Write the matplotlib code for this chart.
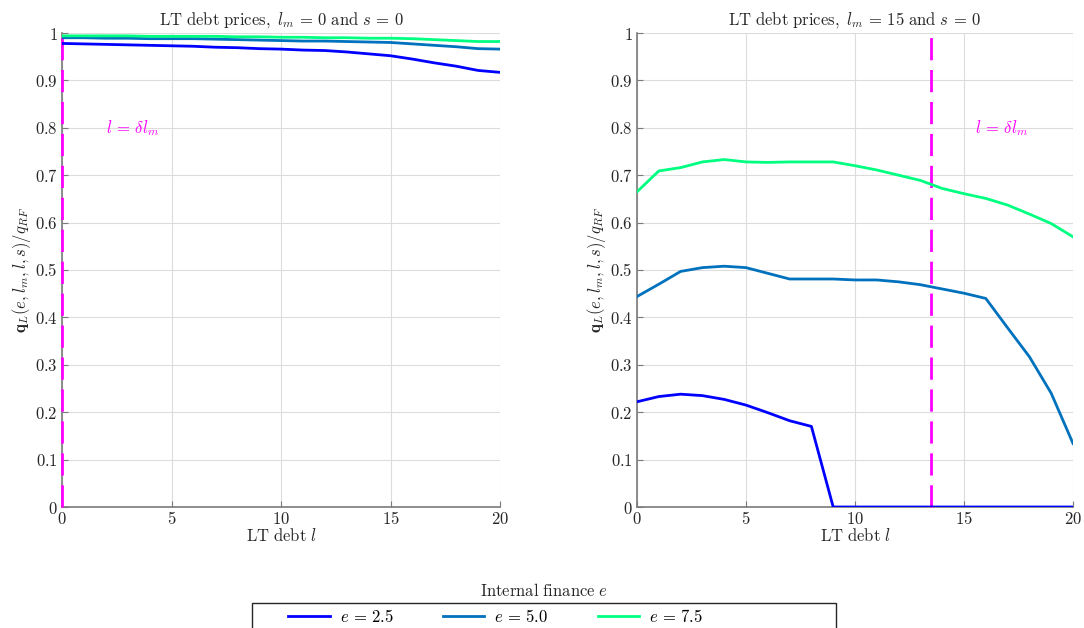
import matplotlib
matplotlib.use("Agg")
import matplotlib.pyplot as plt
from matplotlib.ticker import FuncFormatter
from matplotlib.patches import Rectangle
import numpy as np

plt.rcParams['mathtext.fontset'] = 'cm'
plt.rcParams['font.family'] = ['DejaVu Serif']

debt = list(range(21))

# Left panel: l_m = 0, s = 0
left_e25 = [0.978, 0.977, 0.976, 0.975, 0.974, 0.973, 0.972, 0.970, 0.969, 0.967, 0.966,
            0.964, 0.963, 0.960, 0.956, 0.952, 0.945, 0.937, 0.930, 0.921, 0.917]
left_e50 = [0.990, 0.990, 0.989, 0.989, 0.988, 0.988, 0.988, 0.987, 0.986, 0.985, 0.984,
            0.983, 0.983, 0.982, 0.981, 0.980, 0.977, 0.974, 0.971, 0.967, 0.966]
left_e75 = [0.994, 0.994, 0.994, 0.994, 0.993, 0.993, 0.993, 0.993, 0.992, 0.992, 0.991,
            0.991, 0.990, 0.990, 0.989, 0.989, 0.988, 0.986, 0.984, 0.982, 0.982]

# Right panel: l_m = 15, s = 0
right_e25 = [0.222, 0.233, 0.238, 0.235, 0.227, 0.215, 0.199, 0.182, 0.170, 0.0, 0.0,
             0.0, 0.0, 0.0, 0.0, 0.0, 0.0, 0.0, 0.0, 0.0, 0.0]
right_e50 = [0.444, 0.470, 0.497, 0.505, 0.508, 0.505, 0.493, 0.481, 0.481, 0.481, 0.479,
             0.479, 0.475, 0.469, 0.460, 0.451, 0.440, 0.378, 0.317, 0.240, 0.134]
right_e75 = [0.665, 0.709, 0.716, 0.728, 0.733, 0.728, 0.727, 0.728, 0.728, 0.728, 0.720,
             0.711, 0.700, 0.689, 0.672, 0.661, 0.651, 0.637, 0.618, 0.598, 0.570]

labels = [r'$e\,=\,2.5$', r'$e\,=\,5.0$', r'$e\,=\,7.5$']
colors = ['#0000ff', '#0072bd', '#00ff80']
titles = [r'$\mathrm{LT\ debt\ prices,}\ l_m\,=\,0\ \mathrm{and}\ s\,=\,0$',
          r'$\mathrm{LT\ debt\ prices,}\ l_m\,=\,15\ \mathrm{and}\ s\,=\,0$']
threshold = [0.0, 13.5]
text_pos = [(2.0, 0.80), (15.5, 0.80)]

fig = plt.figure(figsize=(10.84, 6.28), dpi=100)
ax1 = fig.add_axes([62/1084, 1-507/628, 438/1084, 474/628])
ax2 = fig.add_axes([637/1084, 1-507/628, 436/1084, 474/628])

panels = [(ax1, [left_e25, left_e50, left_e75]), (ax2, [right_e25, right_e50, right_e75])]

fmt = FuncFormatter(lambda v, p: r'$%s$' % ('%g' % round(v, 2)))

for i, (ax, series) in enumerate(panels):
    handles = []
    ax.axvline(threshold[i], color='#ff00ff', lw=2.0, linestyle=(0, (8, 3.5)), zorder=3.5,
               clip_on=False)
    for s, c, lab in zip(series, colors, labels):
        h, = ax.plot(debt, s, color=c, lw=2.0, label=lab, zorder=4)
        handles.append(h)
    ax.text(text_pos[i][0], text_pos[i][1], r'$l\,=\,\delta l_m$', color='#ff00ff',
            fontsize=12, va='center', ha='left')
    ax.set_xlim(0, 20)
    ax.set_ylim(0, 1)
    ax.set_xticks([0, 5, 10, 15, 20])
    ax.set_yticks(np.arange(0, 1.01, 0.1))
    ax.xaxis.set_major_formatter(fmt)
    ax.yaxis.set_major_formatter(fmt)
    ax.grid(True, color='#dcdcdc', lw=0.8)
    ax.set_axisbelow(True)
    for sp in ['top', 'right']:
        ax.spines[sp].set_visible(False)
    for sp in ['left', 'bottom']:
        ax.spines[sp].set_color('#7a7a7a')
        ax.spines[sp].set_linewidth(1.2)
    ax.tick_params(direction='in', length=4, colors='#7a7a7a', labelcolor='#262626',
                   labelsize=12, pad=3)
    ax.set_title(titles[i], fontsize=12, color='#262626', pad=6)
    ax.set_xlabel(r'$\mathrm{LT\ debt}\ l$', fontsize=12, color='#262626', labelpad=0)
    ax.set_ylabel(r'$\mathbf{q}_L(e,l_m,l,s)/q_{RF}$', fontsize=12, color='#262626', labelpad=1)

fig.text(544/1084, 1-591/628, r'$\mathrm{Internal\ finance}\ e$', ha='center', va='center',
         fontsize=12, color='#262626')
fig.patches.append(Rectangle((252/1084, -0.05), 584/1084, 0.05 + 1-603/628,
                             transform=fig.transFigure, fill=False,
                             edgecolor='#262626', lw=1.0))
leg = fig.legend(handles, labels, loc='center left', ncol=3,
                 bbox_to_anchor=(288/1084, 1-617/628),
                 frameon=False, fontsize=12,
                 handlelength=2.5, handletextpad=0.6, columnspacing=2.95,
                 borderpad=0, borderaxespad=0)

fig.savefig('out.png', dpi=100)
